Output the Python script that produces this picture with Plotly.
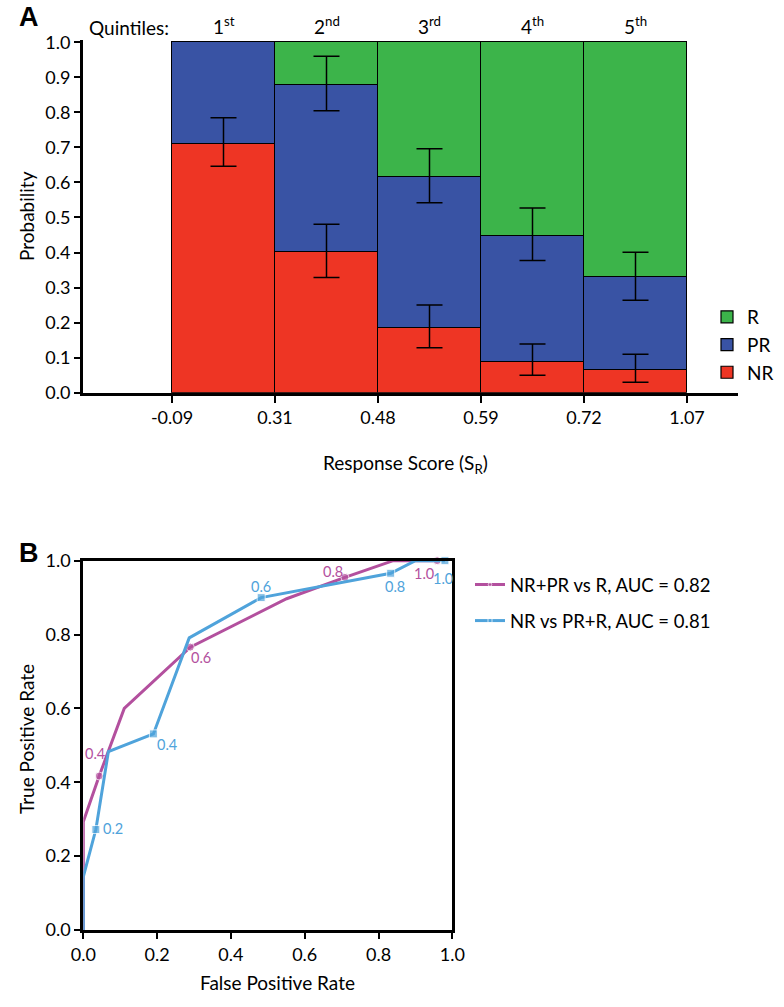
import plotly.graph_objects as go

W, H = 784, 1007

# ---------------- Panel A data ----------------
edge_labels = ["-0.09", "0.31", "0.48", "0.59", "0.72", "1.07"]
quintile_labels = ["1<sup>st</sup>", "2<sup>nd</sup>", "3<sup>rd</sup>", "4<sup>th</sup>", "5<sup>th</sup>"]
nr = [0.710, 0.400, 0.185, 0.088, 0.065]
pr = [0.290, 0.477, 0.430, 0.359, 0.264]
r = [0.000, 0.123, 0.385, 0.553, 0.671]
nr_ci_low = [0.646, 0.329, 0.128, 0.050, 0.030]
nr_ci_high = [0.785, 0.481, 0.250, 0.139, 0.110]
nrpr_ci_low = [None, 0.805, 0.542, 0.377, 0.264]
nrpr_ci_high = [None, 0.960, 0.696, 0.527, 0.401]

# ---------------- Panel B data ----------------
mag_fpr = [0.0, 0.0, 0.043, 0.111, 0.290, 0.551, 0.709, 0.840, 0.959]
mag_tpr = [0.0, 0.293, 0.417, 0.600, 0.766, 0.897, 0.955, 1.000, 1.000]
mag_lab = ["", "", "0.4", "", "0.6", "", "0.8", "", "1.0"]

blu_fpr = [0.0, 0.0, 0.034, 0.068, 0.190, 0.287, 0.482, 0.833, 0.900, 0.980]
blu_tpr = [0.0, 0.144, 0.272, 0.483, 0.531, 0.791, 0.900, 0.966, 1.000, 1.000]
blu_lab = ["", "", "0.2", "", "0.4", "", "0.6", "0.8", "", "1.0"]

# label offsets (px) relative to their threshold marker: styling only
mag_off = {2: (-4, 23), 4: (11, -10), 6: (-12, 6), 8: (-13, -13)}
blu_off = {2: (17, 1), 4: (14, -11), 6: (0, 11), 7: (4, -13), 9: (-2, -18)}

GREEN, BLUE, RED = "#3CB44A", "#3953A4", "#EE3524"
MAG, LBLUE = "#B3509E", "#4FA3DB"
FONT = "Lato"

centers = [i + 1.5 for i in range(len(nr))]
edges = [i + 1 for i in range(len(edge_labels))]

fig = go.Figure()

for name, vals, col in [("NR", nr, RED), ("PR", pr, BLUE), ("R", r, GREEN)]:
    fig.add_trace(go.Bar(
        x=centers, y=vals, width=1.0, name=name,
        marker=dict(color=col, line=dict(color="black", width=1.2)),
        xaxis="x", yaxis="y", legend="legend", hoverinfo="skip"))

# error bars at NR boundary
fig.add_trace(go.Scatter(
    x=centers, y=nr, mode="markers", marker=dict(size=1, opacity=0),
    error_y=dict(type="data", symmetric=False,
                 array=[h - v for h, v in zip(nr_ci_high, nr)],
                 arrayminus=[v - l for v, l in zip(nr, nr_ci_low)],
                 color="black", thickness=1.5, width=13),
    showlegend=False, xaxis="x", yaxis="y", hoverinfo="skip"))

cum = [a + b for a, b in zip(nr, pr)]
idx = [i for i in range(len(cum)) if nrpr_ci_low[i] is not None]
fig.add_trace(go.Scatter(
    x=[centers[i] for i in idx], y=[cum[i] for i in idx], mode="markers",
    marker=dict(size=1, opacity=0),
    error_y=dict(type="data", symmetric=False,
                 array=[nrpr_ci_high[i] - cum[i] for i in idx],
                 arrayminus=[cum[i] - nrpr_ci_low[i] for i in idx],
                 color="black", thickness=1.5, width=13),
    showlegend=False, xaxis="x", yaxis="y", hoverinfo="skip"))

roc_annots = []


def roc(fpr, tpr, lab, off, color, symbol, name, group):
    fig.add_trace(go.Scatter(
        x=fpr, y=tpr, mode="lines+markers", name=name, legendgroup=group,
        line=dict(color=color, width=3),
        marker=dict(color=color, symbol=symbol, size=[0 if t == "" else 8 for t in lab]),
        cliponaxis=False, xaxis="x2", yaxis="y2", legend="legend2"))
    for i, t in enumerate(lab):
        if t:
            dx, dy = off[i]
            roc_annots.append(dict(text=t, x=fpr[i], y=tpr[i], xref="x2", yref="y2",
                                   xshift=dx, yshift=dy, showarrow=False,
                                   font=dict(family=FONT, size=14.5, color=color)))


roc(mag_fpr, mag_tpr, mag_lab, mag_off, MAG, "circle", "NR+PR vs R, AUC = 0.82", "g1")
roc(blu_fpr, blu_tpr, blu_lab, blu_off, LBLUE, "square", "NR vs PR+R, AUC = 0.81", "g2")

# Panel A geometry
ax_l, ax_r = 83, 738
e0, e5 = 172, 687
unit = (e5 - e0) / 5.0
xa_range = [1 - (e0 - ax_l) / unit, 6 + (ax_r - e5) / unit]
ya_bot, ya_top = 392.7, 42.3
ppu = ya_bot - ya_top
yr_top = 1.006
ya_top_px = ya_bot - ppu * yr_top

# Panel B geometry
xb_l, xb_r = 83.3, 452.3
yb_bot, yb_top = 930.0, 560.7

axfont = dict(family=FONT, size=18, color="black")
common = dict(showline=True, linecolor="black", linewidth=3, ticks="outside", tickcolor="black",
              showgrid=False, zeroline=False, tickfont=axfont, automargin=False, fixedrange=True)

fig.update_layout(
    width=W, height=H, margin=dict(l=0, r=0, t=0, b=0, autoexpand=False),
    paper_bgcolor="white", plot_bgcolor="white",
    barmode="stack", bargap=0,
    font=dict(family=FONT, size=18, color="black"),
    xaxis=dict(domain=[ax_l / W, ax_r / W], range=xa_range, tickvals=edges, ticktext=edge_labels,
               ticklen=7, tickwidth=1.5, anchor="y", **common),
    yaxis=dict(domain=[1 - ya_bot / H, 1 - ya_top_px / H], range=[0, yr_top],
               tickvals=[i / 10 for i in range(11)], tickformat=".1f",
               ticklen=6, tickwidth=2, anchor="x", **common),
    xaxis2=dict(domain=[xb_l / W, xb_r / W], range=[0, 1], tickvals=[0, 0.2, 0.4, 0.6, 0.8, 1.0],
                tickformat=".1f", mirror=True, ticklen=6, tickwidth=2, anchor="y2", **common),
    yaxis2=dict(domain=[1 - yb_bot / H, 1 - yb_top / H], range=[0, 1], tickvals=[0, 0.2, 0.4, 0.6, 0.8, 1.0],
                tickformat=".1f", mirror=True, ticklen=6, tickwidth=2, anchor="x2", **common),
    legend=dict(x=707 / W, y=1 - 298 / H, xanchor="left", yanchor="top", traceorder="reversed",
                font=dict(family=FONT, size=19), bgcolor="rgba(0,0,0,0)", tracegroupgap=0,
                itemclick=False),
    legend2=dict(x=470 / W, y=1 - 566 / H, xanchor="left", yanchor="top", tracegroupgap=9,
                 font=dict(family=FONT, size=18.5), bgcolor="rgba(0,0,0,0)", itemclick=False),
    showlegend=True,
)


def pann(text, x, y, size=19, angle=0, xanchor="center", family=FONT):
    return dict(text=text, x=x / W, y=1 - y / H, xref="paper", yref="paper", xanchor=xanchor,
                yanchor="middle", showarrow=False, textangle=angle, font=dict(family=family, size=size))


annots = [
    pann("<b>A</b>", 17, 17, size=27, xanchor="left", family="Liberation Sans"),
    pann("<b>B</b>", 17, 553, size=27, xanchor="left", family="Liberation Sans"),
    pann("Quintiles:", 87, 28, xanchor="left"),
    pann("Probability", 26, 216, size=19, angle=-90),
    pann("Response Score (S<sub>R</sub>)", 405, 464, size=19),
    pann("True Positive Rate", 26, 739, size=19, angle=-90),
    pann("False Positive Rate", 277, 982, size=19),
]
for c, q in zip(centers, quintile_labels):
    annots.append(dict(text=q, x=c, y=1 - 26 / H, xref="x", yref="paper", xanchor="center",
                       yanchor="middle", showarrow=False, font=dict(family=FONT, size=19)))
fig.update_layout(annotations=annots + roc_annots)

fig.write_html("out.html", config={"displayModeBar": False},
               post_script="document.body.style.margin='0';")
